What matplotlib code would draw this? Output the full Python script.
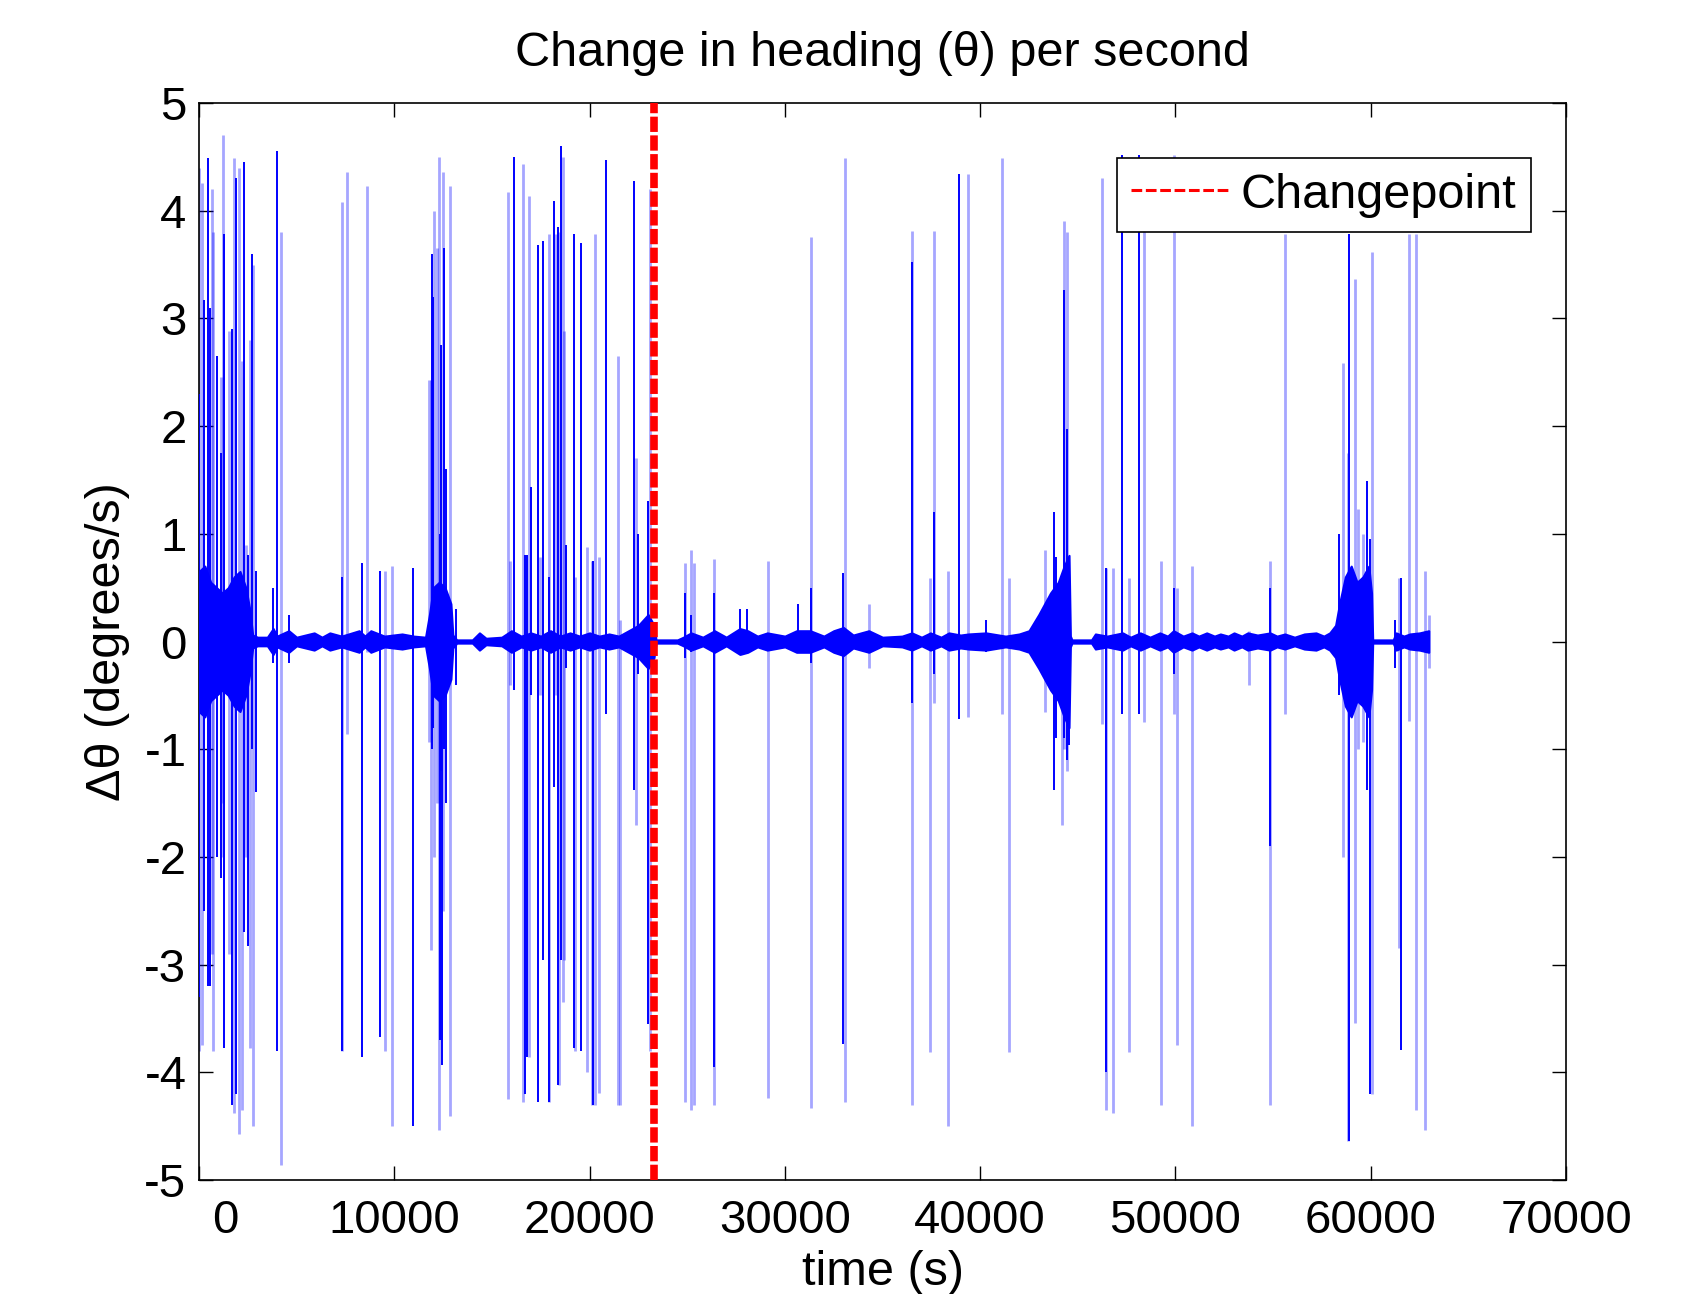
import matplotlib
matplotlib.use("Agg")
import matplotlib.pyplot as plt
from matplotlib.lines import Line2D

plt.rcParams['font.family'] = ['Liberation Sans', 'DejaVu Sans']

# ---------------- data ----------------
title = "Change in heading (\u03b8) per second"
xlabel = "time (s)"
ylabel = "\u0394\u03b8 (degrees/s)"
legend_label = "Changepoint"
x_ticks = [0, 10000, 20000, 30000, 40000, 50000, 60000, 70000]
y_ticks = [-5, -4, -3, -2, -1, 0, 1, 2, 3, 4, 5]
changepoint = 23300

# background noise envelope: time (s) and half-amplitude (deg/s)
band_t = [0, 300, 600, 900, 1200, 1500, 1800, 2100, 2400, 2600, 2750, 3000, 3500,
          3800, 4000, 4600, 5000, 5900, 6300, 6700, 7300, 8200, 8500, 8800, 9500,
          10400, 11000, 11600, 11800, 12000, 12300, 12600, 12900, 13000, 13200,
          14000, 14362, 14700, 15500, 16000, 16500, 17000, 17500, 18000, 18500,
          19000, 19500, 20000, 20500, 21000, 21500, 22000, 22500, 23000, 23300,
          23400, 24500, 24800, 25200, 25800, 26400, 27000, 27700, 28100, 28600,
          29100, 30000, 30600, 31300, 32000, 32500, 33000, 33500, 34300, 35000,
          36000, 36500, 37000, 37450, 38000, 38400, 39000, 39400, 40300, 41300,
          42000, 42500, 43000, 43300, 43600, 44000, 44300, 44550, 44620, 44700,
          45700, 45900, 46500, 47300, 47700, 48200, 48700, 49200, 49600, 49900,
          50400, 50850, 51200, 51600, 52000, 52300, 52700, 53000, 53400, 53700,
          54200, 54850, 55200, 55600, 56100, 56600, 57200, 57600, 57900, 58200,
          58400, 58700, 59000, 59300, 59600, 59900, 60040, 60100, 61150, 61300,
          61700, 62000, 62500, 62970]
band_amp = [0.65, 0.7, 0.55, 0.5, 0.45, 0.5, 0.6, 0.65, 0.5, 0.3, 0.06, 0.04, 0.04,
            0.12, 0.05, 0.1, 0.04, 0.08, 0.04, 0.08, 0.05, 0.1, 0.05, 0.1, 0.05,
            0.07, 0.05, 0.04, 0.25, 0.5, 0.55, 0.5, 0.35, 0.06, 0.015,
            0.015, 0.08, 0.03, 0.04, 0.1, 0.05, 0.08, 0.05, 0.1, 0.05,
            0.08, 0.05, 0.08, 0.05, 0.07, 0.05, 0.1, 0.15, 0.25, 0.15,
            0.015, 0.015, 0.04, 0.08, 0.04, 0.1, 0.04, 0.12, 0.1, 0.05,
            0.08, 0.05, 0.1, 0.1, 0.05, 0.1, 0.13, 0.06, 0.1, 0.04,
            0.05, 0.08, 0.04, 0.08, 0.04, 0.08, 0.06, 0.07, 0.08, 0.05,
            0.07, 0.1, 0.25, 0.35, 0.45, 0.55, 0.7, 0.8, 0.05, 0.015,
            0.015, 0.07, 0.05, 0.08, 0.04, 0.08, 0.04, 0.08, 0.05, 0.1,
            0.05, 0.08, 0.05, 0.08, 0.05, 0.07, 0.05, 0.08, 0.05, 0.08,
            0.06, 0.08, 0.05, 0.07, 0.04, 0.07, 0.08, 0.05, 0.08, 0.15,
            0.35, 0.6, 0.7, 0.55, 0.6, 0.7, 0.45, 0.015, 0.015, 0.08,
            0.05, 0.07, 0.08, 0.1]

# isolated single-sample spikes (rendered faint): time, max, min
light_t = [26, 162, 674, 742, 1135, 1220, 1562, 1784, 2040, 2194, 2416, 2637, 2790,
           4207, 7330, 7569, 8593, 9532, 9890, 11767,
           11887, 12058, 12177, 12314, 12485, 12860, 15847, 15932, 16580, 16922,
           17468, 17911, 18287, 18458, 18628, 18714, 19277, 19874, 20130, 20301,
           20471, 21478, 21563, 22382, 23100,
           24892, 25199, 25336, 26394, 29142, 31344, 33067, 34296,
           36497, 37453, 37658, 38374, 39364, 41122, 41464, 43341, 44194, 44280,
           44434, 46242, 46447, 46822,
           47609, 48411, 49265, 49913, 50084, 50852, 53753, 54845, 55613, 58566,
           58822, 59212, 59332, 59588, 60048, 61465, 61943, 62318, 62796, 62967]
light_hi = [4.4, 4.26, 4.2, 3.8, 2.46, 4.7, 2.88, 4.49, 4.4, 2.6, 0.9, 2.8, 3.5,
            3.8, 4.08, 4.36, 4.23, 0.65, 0.7, 2.43,
            2.43, 4.0, 3.65, 4.5, 4.36, 4.23, 4.17, 0.75, 4.43, 4.14,
            0.78, 3.78, 3.78, 3.8, 4.5, 2.88, 0.6, 0.88, 0.75, 3.78,
            0.78, 2.65, 0.2, 1.7, 4.2,
            0.73, 0.85, 0.73, 0.77, 0.75, 3.76, 4.49, 0.35,
            3.81, 0.59, 3.81, 0.65, 4.34, 4.49, 0.59, 0.85, 0.0, 3.9,
            3.8, 4.3, 0.68, 0.68,
            0.59, 3.9, 0.75, 4.52, 0.5, 0.7, 0.1, 0.75, 3.78, 2.59,
            1.75, 3.37, 1.23, 1.0, 3.62, 0.59, 3.78, 3.78, 0.65, 0.25]
light_lo = [-3.8, -3.75, -2.9, -3.8, -2.0, -1.5, -2.9, -4.38, -4.57, -4.35, -2.0, -3.77, -4.5,
            -4.86, -3.8, -0.86, -0.1, -3.8, -4.5, -0.93,
            -2.86, -2.0, -1.5, -4.54, -2.5, -4.41, -4.25, -0.4, -4.28, -3.86,
            -0.5, -4.28, -0.5, -4.12, -3.35, -2.96, -3.8, -4.0, -4.3, -4.3,
            -4.19, -4.3, -4.3, -1.7, -3.8,
            -4.28, -4.35, -4.3, -4.3, -4.24, -4.33, -4.28, -0.25,
            -4.3, -3.81, -0.57, -4.5, -0.7, -0.67, -3.81, -0.65, -1.7, -1.0,
            -1.2, -0.77, -4.35, -4.38,
            -3.81, -0.75, -4.3, -0.67, -3.75, -4.5, -0.4, -4.3, -0.67, -2.0,
            -4.64, -3.54, -1.0, -0.93, -4.2, -2.85, -0.74, -4.35, -4.54, -0.25]

# multi-sample spikes (rendered solid): time, max, min
dark_t = [26, 282, 452, 572, 947, 1135, 1306, 1698, 1903, 2296, 2500, 2722, 2927,
          3780, 4002, 4634, 7330, 8337, 9276, 10982,
          11938, 12006, 12348, 12400, 12451, 12570, 12656, 13167, 16154, 16717,
          16785, 17007, 17383, 17604, 17911, 18202, 18372, 18543, 18799, 19192,
          19567, 20198, 20846, 22297, 22467, 22980,
          24892, 25199, 26394, 27708, 28067, 30661, 31344, 32965,
          36497, 37658, 38938, 40303, 43768, 43887, 44280, 44434, 44536, 46447,
          47268, 48121, 49913, 54845, 58400,
          58905, 59810, 59963, 61260, 61550]
dark_hi = [2.3, 3.17, 4.49, 3.1, 2.65, 1.75, 3.78, 2.9, 4.3, 4.45, 0.8, 3.6, 0.65,
           0.5, 4.55, 0.25, 0.6, 0.73, 0.65, 0.68,
           3.6, 3.2, 1.0, 2.75, 0.5, 3.65, 1.6, 0.3, 4.5, 0.8,
           0.8, 1.43, 3.68, 3.72, 0.6, 4.09, 3.85, 4.6, 0.9, 3.78,
           3.7, 0.75, 4.47, 4.28, 1.0, 1.3,
           0.45, 0.25, 0.45, 0.3, 0.3, 0.35, 0.5, 0.64,
           3.52, 1.2, 4.34, 0.2, 1.2, 0.78, 3.26, 1.97, 0.7, 0.68,
           4.52, 4.52, 0.5, 0.5, 1.0,
           3.78, 1.49, 0.95, 0.2, 0.59]
dark_lo = [-3.3, -2.5, -3.2, -3.2, -2.0, -2.2, -3.77, -4.3, -4.2, -2.7, -2.83, -1.0, -1.4,
           -0.2, -3.8, -0.2, -3.8, -3.86, -3.67, -4.5,
           -1.0, -0.8, -3.7, -1.2, -3.93, -1.0, -1.5, -0.4, -0.45, -4.2,
           -3.86, -0.5, -4.28, -2.96, -4.28, -1.35, -4.12, -2.96, -0.25, -3.77,
           -3.8, -4.3, -0.67, -1.38, -0.3, -3.55,
           -0.15, -0.1, -3.95, -0.1, -0.1, -0.1, -0.2, -3.74,
           -0.57, -0.3, -0.72, -0.1, -1.38, -0.9, -0.9, -1.1, -0.96, -4.0,
           -0.67, -0.67, -0.3, -1.9, -0.5,
           -4.64, -1.38, -4.2, -0.25, -3.79]

# ---------------- figure ----------------
fig = plt.figure(figsize=(17.05, 12.94), dpi=100)
ax = fig.add_axes([0.1167, 0.0881, 0.8018, 0.8323])

blue = (0.0, 0.0, 1.0)
ax.vlines(light_t, light_lo, light_hi, colors=[blue], alpha=0.35, linewidth=2.0, zorder=2)
neg_amp = [-a for a in band_amp]
ax.fill_between(band_t, neg_amp, band_amp, color=blue, linewidth=1.5, edgecolor=blue, zorder=3)
ax.vlines(dark_t, dark_lo, dark_hi, colors=[blue], linewidth=1.4, zorder=4)

ax.axvline(changepoint, color='red', linewidth=5.5, dashes=(2.0, 0.45), zorder=5)

ax.set_xlim(0, 70000)
ax.set_ylim(-5, 5)
fs = 34
ax.set_xticks(x_ticks)
ax.set_xticklabels([''] + [str(v) for v in x_ticks[1:]])
ax.set_yticks(y_ticks)
ax.set_yticklabels([str(v) for v in y_ticks])
ax.tick_params(direction='in', length=10, width=1.0, top=True, right=True,
               labelsize=fs)
ax.tick_params(axis='x', pad=14)
ax.tick_params(axis='y', pad=9)
ax.annotate(str(x_ticks[0]), xy=(x_ticks[0], 0), xycoords=('data', 'axes fraction'),
            xytext=(19, -14), textcoords='offset points', ha='center', va='top',
            fontsize=fs)
for s in ax.spines.values():
    s.set_linewidth(1.2)

ax.set_title(title, fontsize=35, pad=27)
ax.set_xlabel(xlabel, fontsize=35, labelpad=5)
ax.set_ylabel(ylabel, fontsize=35, labelpad=10)

handle = Line2D([], [], color='red', linestyle='--', linewidth=2.2, dashes=(3.5, 1.2))
leg = ax.legend([handle], [legend_label], loc='upper right',
                bbox_to_anchor=(0.9744, 0.949), borderaxespad=0, fontsize=35,
                fancybox=False, framealpha=1, edgecolor='black',
                handlelength=2.0, handletextpad=0.25, borderpad=0.3)
leg.get_frame().set_linewidth(1.2)

fig.savefig("out.png", dpi=100, facecolor='white')
